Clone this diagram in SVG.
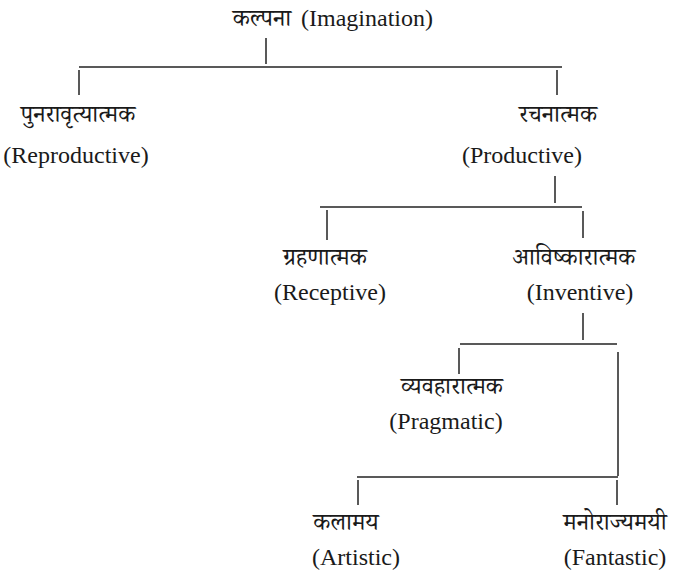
<svg xmlns="http://www.w3.org/2000/svg" width="686" height="575" viewBox="0 0 686 575">
<style>
.hi{font-family:"Noto Serif Devanagari","Noto Sans Devanagari","Lohit Devanagari","Noto Sans",sans-serif;font-size:24px;fill:#1a1a1a;text-anchor:middle}
.en{font-family:"Liberation Serif",serif;font-size:24px;fill:#1a1a1a;text-anchor:middle}
.ln{stroke:#222;stroke-width:1.5;fill:none}
</style>
<rect width="686" height="575" fill="#fff"/>
<g id="connectors" class="ln">
<path d="M266 38V64"/>
<path d="M79 67H562"/>
<path d="M79 70V95"/>
<path d="M557 70V95"/>
<path d="M555 176V203"/>
<path d="M320 207H582"/>
<path d="M327 210V240"/>
<path d="M583 211V238"/>
<path d="M583 313V340"/>
<path d="M460 344H617"/>
<path d="M459 348V374"/>
<path d="M618 352V476"/>
<path d="M357 477H618"/>
<path d="M358 480V505"/>
<path d="M617 480V505"/>
</g>
<g id="imagination">
<text class="hi" x="262" y="26">कल्पना</text>
<text class="en" x="367" y="26">(Imagination)</text>
</g>
<g id="reproductive">
<text class="hi" x="78" y="122">पुनरावृत्यात्मक</text>
<text class="en" x="76" y="163">(Reproductive)</text>
</g>
<g id="productive">
<text class="hi" x="558" y="122">रचनात्मक</text>
<text class="en" x="522" y="163">(Productive)</text>
</g>
<g id="receptive">
<text class="hi" x="325" y="265">ग्रहणात्मक</text>
<text class="en" x="330" y="300">(Receptive)</text>
</g>
<g id="inventive">
<text class="hi" x="574" y="265">आविष्कारात्मक</text>
<text class="en" x="580" y="300">(Inventive)</text>
</g>
<g id="pragmatic">
<text class="hi" x="452" y="394">व्यवहारात्मक</text>
<text class="en" x="446" y="429">(Pragmatic)</text>
</g>
<g id="artistic">
<text class="hi" x="346" y="530">कलामय</text>
<text class="en" x="356" y="565">(Artistic)</text>
</g>
<g id="fantastic">
<text class="hi" x="615" y="530">मनोराज्यमयी</text>
<text class="en" x="615" y="565">(Fantastic)</text>
</g>
</svg>
